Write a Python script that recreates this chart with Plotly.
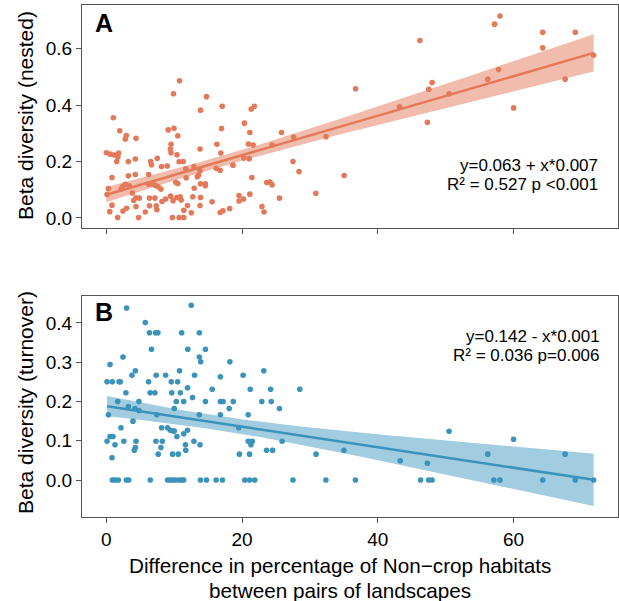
import numpy as np
import plotly.graph_objects as go

# ---------------- data ----------------
nested_x = [10.78, 9.9, 14.75, 13.88, 17.07, 21.34, 21.8, 1.03, 1.97, 2.94, 2.79, 4.37, 9.12, 9.96,
            10.52, 16.97, 20.35, 21.14, 9.53, 9.43, 9.53, 10.42, 13.8, 16.28, 16.87, 20.94, 21.64,
            20.25, 21.04, 24.42, 25.81, 27.59, 32.36, 36.73, 0.0, 0.59, 1.18, 1.82, 1.52, 1.69,
            3.24, 4.27, 0.83, 3.24, 4.27, 6.52, 6.65, 7.5, 8.14, 8.97, 10.72, 11.32, 11.71, 12.9,
            11.76, 13.8, 13.6, 13.4, 16.18, 16.77, 18.66, 21.44, 23.62, 24.12, 24.42, 27.5, 28.39,
            35.04, 30.87, 25.51, 0.3, 0.1, 0.83, 0.5, 1.67, 2.45, 2.98, 2.38, 2.78, 3.37, 2.18,
            3.82, 4.02, 4.37, 4.86, 4.37, 4.75, 5.74, 6.35, 6.35, 6.22, 6.25, 6.91, 7.25, 7.64,
            8.04, 7.15, 7.35, 7.44, 8.19, 8.73, 9.46, 9.83, 10.39, 10.88, 11.02, 9.73, 10.72,
            11.41, 11.41, 11.96, 12.51, 10.22, 10.52, 12.74, 13.87, 13.8, 12.94, 13.87, 14.59,
            14.59, 15.58, 16.77, 17.17, 18.16, 19.55, 19.55, 20.2, 21.14, 22.93, 23.23,
            43.2, 46.2, 47.3, 47.5, 48.0, 50.5, 56.2, 57.2, 58.0, 57.8, 60.0, 64.3, 64.3, 69.1,
            67.6, 71.8]
nested_y = [0.486, 0.44, 0.43, 0.382, 0.396, 0.386, 0.396, 0.355, 0.309, 0.292, 0.28, 0.282, 0.312,
            0.318, 0.291, 0.317, 0.336, 0.303, 0.261, 0.244, 0.231, 0.224, 0.244, 0.261, 0.23,
            0.262, 0.258, 0.212, 0.21, 0.258, 0.303, 0.287, 0.288, 0.458, 0.231, 0.226, 0.223,
            0.23, 0.2, 0.216, 0.2, 0.209, 0.143, 0.149, 0.154, 0.2, 0.188, 0.211, 0.182, 0.184,
            0.199, 0.2, 0.174, 0.182, 0.142, 0.167, 0.152, 0.146, 0.176, 0.169, 0.187, 0.143,
            0.125, 0.127, 0.117, 0.2, 0.164, 0.15, 0.087, 0.07, 0.104, 0.083, 0.045, 0.022,
            0.001, 0.024, 0.034, 0.11, 0.119, 0.114, 0.102, 0.088, 0.062, 0.071, 0.07, 0.04,
            0.001, 0.021, 0.07, 0.043, 0.154, 0.119, 0.119, 0.115, 0.11, 0.102, 0.07, 0.043,
            0.029, 0.058, 0.067, 0.077, 0.061, 0.072, 0.075, 0.063, 0.001, 0.001, 0.001, 0.027,
            0.044, 0.018, 0.126, 0.122, 0.075, 0.072, 0.044, 0.105, 0.121, 0.121, 0.114, 0.057,
            0.019, 0.025, 0.033, 0.079, 0.06, 0.067, 0.084, 0.04, 0.021,
            0.394, 0.629, 0.339, 0.456, 0.48, 0.44, 0.492, 0.687, 0.716, 0.526, 0.39, 0.658,
            0.603, 0.658, 0.492, 0.577]

turnover_x = [12.5, 2.98, 5.74, 6.35, 7.25, 7.6, 11.1, 13.7, 6.65, 12.0, 14.6, 2.45, 13.7, 13.9,
              0.54, 18.2, 4.27, 3.77, 10.78, 23.2, 7.35, 8.73, 13.0, 16.8, 20.15, 0.1, 0.88, 1.87,
              2.05, 6.22, 9.56, 10.5, 11.96, 15.6, 21.2, 24.2, 28.5, 2.88, 6.45, 7.15, 9.63, 10.9,
              12.7, 1.67, 4.8, 10.3, 11.4, 14.6, 16.8, 17.2, 18.7, 22.9, 24.3, 3.24, 4.22, 4.8,
              10.0, 18.1, 25.5, 0.3, 7.44, 13.7, 16.8, 20.9, 3.92, 2.15, 8.14, 9.02, 9.41, 9.86,
              10.0, 11.96, 11.4, 10.4, 19.5, 0.54, 0.98, 0.1, 1.27, 2.58, 4.37, 7.3, 8.24, 12.9,
              20.9, 21.5, 21.3, 25.9, 11.66, 13.8, 8.04, 4.27, 4.12, 11.7, 23.6, 24.5, 0.83, 7.64,
              9.76, 10.6, 19.6, 21.1, 30.9, 35.0,
              0.88, 1.27, 1.77, 2.94, 3.29, 6.47, 9.02, 9.41, 9.8, 10.2, 10.7, 11.03, 11.38, 13.87,
              14.75, 16.18, 17.1, 20.4, 21.1, 21.86, 27.5, 32.35, 36.7,
              50.5, 43.3, 47.3, 46.3, 47.5, 48.0, 56.2, 60.0, 57.1, 58.0, 64.3, 67.6, 69.1, 71.8]
turnover_y = [0.445, 0.438, 0.401, 0.375, 0.375, 0.375, 0.375, 0.375, 0.333, 0.333, 0.333, 0.313,
              0.313, 0.301, 0.294, 0.301, 0.278, 0.267, 0.278, 0.278, 0.267, 0.267, 0.267, 0.263,
              0.267, 0.25, 0.25, 0.25, 0.25, 0.25, 0.25, 0.25, 0.235, 0.231, 0.231, 0.231, 0.231,
              0.222, 0.222, 0.222, 0.222, 0.222, 0.21, 0.2, 0.2, 0.2, 0.2, 0.2, 0.2, 0.2, 0.2, 0.2,
              0.2, 0.187, 0.182, 0.177, 0.182, 0.182, 0.182, 0.166, 0.166, 0.166, 0.166, 0.166,
              0.15, 0.133, 0.133, 0.133, 0.127, 0.125, 0.125, 0.127, 0.118, 0.111, 0.133, 0.111,
              0.111, 0.099, 0.09, 0.099, 0.099, 0.099, 0.099, 0.099, 0.099, 0.099, 0.09, 0.099,
              0.09, 0.09, 0.083, 0.083, 0.076, 0.076, 0.076, 0.076, 0.057, 0.066, 0.066, 0.066,
              0.066, 0.066, 0.066, 0.076,
              0, 0, 0, 0, 0, 0, 0, 0, 0, 0, 0, 0, 0, 0, 0, 0, 0, 0, 0, 0, 0, 0, 0,
              0.124, 0.049, 0.043, 0, 0, 0, 0.066, 0.104, 0, 0, 0, 0.066, 0, 0]

x_ticks = [0, 20, 40, 60]
nested_ticks = [0.0, 0.2, 0.4, 0.6]
turnover_ticks = [0.0, 0.1, 0.2, 0.3, 0.4]
stats_a = ["y=0.063 + x*0.007", "R² = 0.527 p <0.001"]
stats_b = ["y=0.142 - x*0.001", "R² = 0.036 p=0.006"]

ORANGE, ORANGE_BAND = "#E4795A", "rgba(228,121,90,0.5)"
BLUE, BLUE_BAND = "#3A93BA", "rgba(58,147,186,0.47)"
FONT = "Liberation Sans, Arial, sans-serif"


def fit_with_ci(x, y):
    x = np.asarray(x, float)
    y = np.asarray(y, float)
    b, a = np.polyfit(x, y, 1)
    n = len(x)
    resid = y - (a + b * x)
    s = np.sqrt(np.sum(resid ** 2) / (n - 2))
    xs = np.linspace(x.min(), x.max(), 100)
    se = s * np.sqrt(1 / n + (xs - x.mean()) ** 2 / np.sum((x - x.mean()) ** 2))
    yh = a + b * xs
    return xs, yh, yh - 1.97 * se, yh + 1.97 * se


fig = go.Figure()


def add_panel(x, y, color, band, xa, ya):
    xs, yh, lo, hi = fit_with_ci(x, y)
    fig.add_trace(go.Scatter(x=np.concatenate([xs, xs[::-1]]), y=np.concatenate([hi, lo[::-1]]),
                             fill="toself", fillcolor=band, line=dict(width=0), mode="lines",
                             hoverinfo="skip", showlegend=False, xaxis=xa, yaxis=ya))
    fig.add_trace(go.Scatter(x=x, y=y, mode="markers", marker=dict(color=color, size=5.6),
                             showlegend=False, xaxis=xa, yaxis=ya))
    fig.add_trace(go.Scatter(x=xs, y=yh, mode="lines", line=dict(color=color, width=2.5),
                             showlegend=False, xaxis=xa, yaxis=ya))


add_panel(nested_x, nested_y, ORANGE, ORANGE_BAND, "x", "y")
add_panel(turnover_x, turnover_y, BLUE, BLUE_BAND, "x2", "y2")

axis_common = dict(showline=True, mirror=True, linecolor="#555555", linewidth=1.3,
                   ticks="outside", ticklen=5, tickwidth=1.3, tickcolor="#555555",
                   showgrid=False, zeroline=False,
                   tickfont=dict(family=FONT, size=19, color="black"))

fig.update_layout(
    width=619, height=601,
    margin=dict(l=82, r=1, t=5, b=84),
    plot_bgcolor="white", paper_bgcolor="white",
    font=dict(family=FONT, color="black"),
    xaxis=dict(domain=[0, 1], range=[-3.59, 75.39], tickvals=x_ticks, showticklabels=False,
               anchor="y", **axis_common),
    yaxis=dict(domain=[0.565, 1], range=[-0.035, 0.755], tickvals=nested_ticks,
               tickformat=".1f", anchor="x", **axis_common),
    xaxis2=dict(domain=[0, 1], range=[-3.59, 75.39], tickvals=x_ticks, anchor="y2",
                matches="x", **axis_common),
    yaxis2=dict(domain=[0, 0.432], range=[-0.094, 0.469], tickvals=turnover_ticks,
                tickformat=".1f", anchor="x2", **axis_common),
)

ann = []
# panel letters
ann.append(dict(text="<b>A</b>", xref="paper", yref="paper", x=(93 - 82) / 536, y=(517 - 23) / 512,
                xanchor="left", yanchor="middle", showarrow=False, font=dict(size=25, family=FONT)))
ann.append(dict(text="<b>B</b>", xref="paper", yref="paper", x=(93 - 82) / 536, y=(517 - 312) / 512,
                xanchor="left", yanchor="middle", showarrow=False, font=dict(size=25, family=FONT)))
# stats
for txt, py in zip(stats_a, [165, 184]):
    ann.append(dict(text=txt, xref="paper", yref="paper", x=(600 - 82) / 536, y=(517 - py) / 512,
                    xanchor="right", yanchor="middle", showarrow=False, font=dict(size=17, family=FONT)))
for txt, py in zip(stats_b, [336, 355]):
    ann.append(dict(text=txt, xref="paper", yref="paper", x=(602 - 82) / 536, y=(517 - py) / 512,
                    xanchor="right", yanchor="middle", showarrow=False, font=dict(size=17, family=FONT)))
# y titles
ann.append(dict(text="Beta diversity (nested)", xref="paper", yref="paper", x=(25 - 82) / 536,
                y=(517 - 116) / 512, xanchor="center", yanchor="middle", textangle=-90,
                showarrow=False, font=dict(size=21, family=FONT)))
ann.append(dict(text="Beta diversity (turnover)", xref="paper", yref="paper", x=(25 - 82) / 536,
                y=(517 - 403) / 512, xanchor="center", yanchor="middle", textangle=-90,
                showarrow=False, font=dict(size=21, family=FONT)))
# x title
ann.append(dict(text="Difference in percentage of Non\u2212crop habitats", xref="paper", yref="paper",
                x=(340 - 82) / 536, y=(517 - 565) / 512, xanchor="center", yanchor="middle",
                showarrow=False, font=dict(size=20.7, family=FONT)))
ann.append(dict(text="between pairs of landscapes", xref="paper", yref="paper",
                x=(340 - 82) / 536, y=(517 - 590) / 512, xanchor="center", yanchor="middle",
                showarrow=False, font=dict(size=20.7, family=FONT)))
fig.update_layout(annotations=ann)

fig.write_html("out.html", config={"displayModeBar": False},
               post_script="document.body.style.margin='0px';document.body.style.overflow='hidden';")
